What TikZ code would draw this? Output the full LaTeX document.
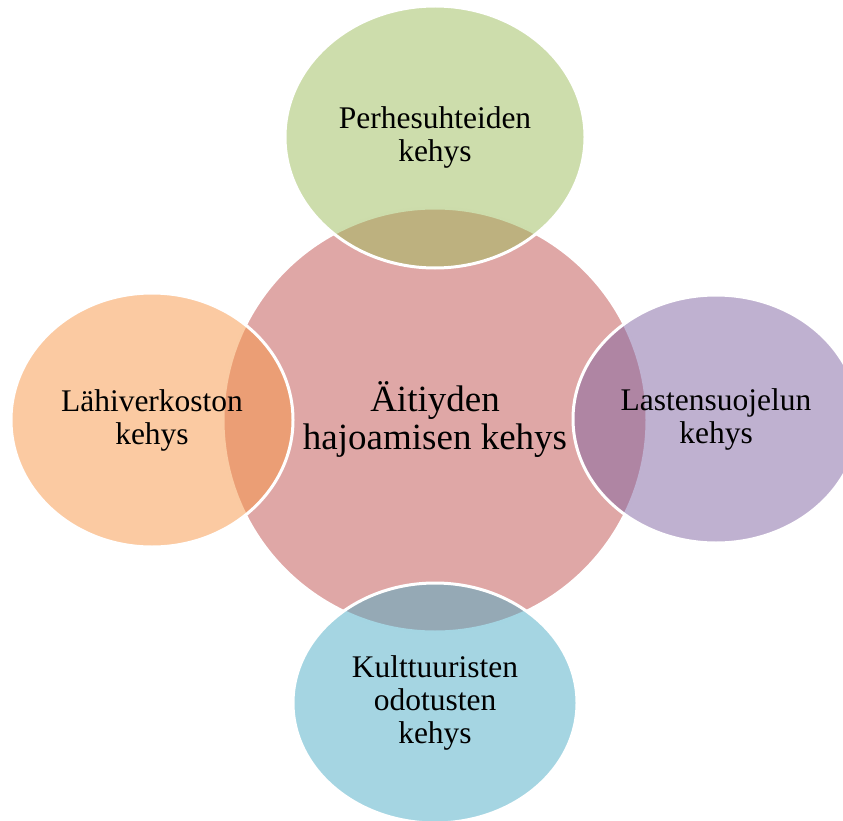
\documentclass[tikz,border=0pt]{standalone}
\usepackage{fontspec}
\setmainfont{Liberation Serif}
\usetikzlibrary{shapes.geometric}
\definecolor{aitired}{HTML}{C0504D}
\definecolor{perhegreen}{HTML}{9BBB59}
\definecolor{lahiorange}{HTML}{F79646}
\definecolor{lastenpurple}{HTML}{8064A2}
\definecolor{kulttblue}{HTML}{4BACC6}
\begin{document}
\begin{tikzpicture}[x=1pt,y=-1pt,
	kehys/.style={ellipse, draw=white, line width=3pt, fill opacity=0.5, text opacity=1,
		align=center, inner sep=0pt, font=\fontsize{31.5}{33}\selectfont}]
	\useasboundingbox (0,0) rectangle (843,821);
	\clip (0,0) rectangle (843,821);
	\node[kehys, circle, fill=aitired, minimum size=424pt, font=\fontsize{37}{38}\selectfont] (aitiys) at (435,420) {Äitiyden\\hajoamisen kehys};
	\node[kehys, fill=perhegreen, minimum width=300pt, minimum height=262pt] (perhe) at (435,137) {Perhesuhteiden\\kehys};
	\node[kehys, fill=lahiorange, minimum width=282pt, minimum height=254pt] (lahi) at (152,420) {Lähiverkoston\\kehys};
	\node[kehys, fill=lastenpurple, minimum width=286pt, minimum height=248pt] (lasten) at (716,419) {Lastensuojelun\\kehys};
	\node[kehys, fill=kulttblue, minimum width=284pt, minimum height=240pt] (kultt) at (435,703) {Kulttuuristen\\odotusten\\kehys};
\end{tikzpicture}
\end{document}
